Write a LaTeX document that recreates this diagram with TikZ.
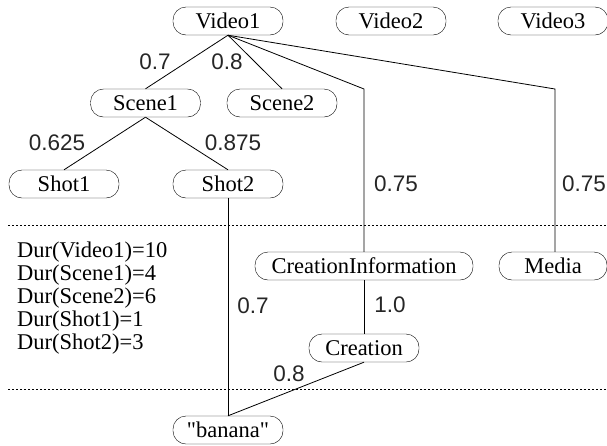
\documentclass[tikz,border=0pt]{standalone}
\usepackage{fontspec}
\setmainfont{Liberation Serif}[Ligatures=TeXOff]
\newfontfamily\lblfont{Liberation Sans}
\begin{document}
\begin{tikzpicture}[x=1pt,y=-1pt,
  obj/.style={draw, rounded corners=13pt, minimum height=28pt, minimum width=110pt, inner sep=0pt, font=\fontsize{22.5}{24}\selectfont},
  wt/.style={font=\lblfont\fontsize{22.5}{24}\selectfont, text=black!85, inner sep=0pt},
  dur/.style={font=\fontsize{22.5}{24}\selectfont, anchor=west, inner sep=0pt},
  link/.style={line width=0.8pt},
  sep/.style={line width=0.7pt, dash pattern=on 2pt off 2pt}]
\useasboundingbox (0,0) rectangle (607,445);
% nodes
\node[obj] (v1) at (228,21) {Video1};
\node[obj] (v2) at (391,21) {Video2};
\node[obj] (v3) at (553,21) {Video3};
\node[obj] (s1) at (145.5,103) {Scene1};
\node[obj] (s2) at (282,103) {Scene2};
\node[obj] (sh1) at (64,184) {Shot1};
\node[obj] (sh2) at (228,184) {Shot2};
\node[obj, minimum width=218pt] (ci) at (364,266) {CreationInformation};
\node[obj, minimum width=108pt] (me) at (553,266) {Media};
\node[obj] (cr) at (364,348) {Creation};
\node[obj] (ba) at (228,430) {"banana"};
\coordinate (kci) at (364,89);
\coordinate (kme) at (555,89);
\coordinate (dl1) at (8,225);
\coordinate (dr1) at (607,225);
\coordinate (dl2) at (8,389);
\coordinate (dr2) at (607,389);
% connectors
\draw[link] (v1.south) -- (s1.north);
\draw[link] (v1.south) -- (s2.north);
\draw[link] (v1.south) -- (kci) -- (ci.north);
\draw[link] (v1.south) -- (kme) -- (me.north -| kme);
\draw[link] (s1.south) -- (sh1.north);
\draw[link] (s1.south) -- (sh2.north);
\draw[link] (sh2.south) -- (ba.north);
\draw[link] (ci.south) -- (cr.north);
\draw[link] (cr.south) -- (ba.north);
% separators
\draw[sep] (dl1) -- (dr1);
\draw[sep] (dl2) -- (dr2);
% weights
\node[wt] (w1) at (155,62) {0.7};
\node[wt] (w2) at (227,62) {0.8};
\node[wt] (w3) at (57,143) {0.625};
\node[wt] (w4) at (233,143) {0.875};
\node[wt] (w5) at (396,184) {0.75};
\node[wt, anchor=west] (w6) at (562,184) {0.75};
\node[wt] (w7) at (253,306) {0.7};
\node[wt] (w8) at (390,305) {1.0};
\node[wt] (w9) at (289,374) {0.8};
% durations
\node[dur] (d1) at (17,252) {Dur(Video1)=10};
\node[dur] (d2) at (17,275) {Dur(Scene1)=4};
\node[dur] (d3) at (17,298) {Dur(Scene2)=6};
\node[dur] (d4) at (17,321) {Dur(Shot1)=1};
\node[dur] (d5) at (17,344) {Dur(Shot2)=3};
\end{tikzpicture}
\end{document}
